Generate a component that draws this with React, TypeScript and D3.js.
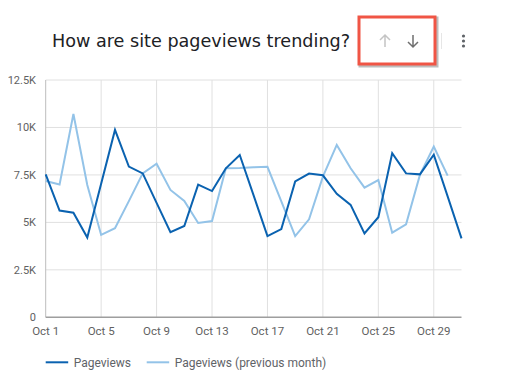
import { useEffect, useRef } from "react"
import * as d3 from "d3"

// day of month (Oct 1 .. Oct 31)
const days = d3.range(1, 32)
const pageviews = [
  7530, 5620, 5510, 4200, 7040, 9870, 7940, 7580, 6030, 4480, 4810, 6990, 6650, 7850, 8550, 6420,
  4280, 4650, 7160, 7570, 7480, 6500, 5920, 4420, 5270, 8640, 7580, 7530, 8570, 6370, 4160,
]
// previous month only has 30 days
const previousMonth = [
  7180, 7000, 10710, 6970, 4340, 4690, 6120, 7580, 8090, 6710, 6130, 4970, 5070, 7850, 7860, 7900,
  7930, 6110, 4280, 5160, 7410, 9080, 7850, 6830, 7230, 4460, 4900, 7500, 8990, 7460,
]
const yTicks = [0, 2500, 5000, 7500, 10000, 12500]
const xTicks = [1, 5, 9, 13, 17, 21, 25, 29]
const seriesNames = ["Pageviews", "Pageviews (previous month)"]
const seriesColors = ["#0a62b0", "#93c3e8"]

const fmtK = (v: number) => (v === 0 ? "0" : `${v / 1000}K`)

export default function App() {
  const svgRef = useRef<SVGSVGElement>(null)

  useEffect(() => {
    if (!svgRef.current) return
    const svg = d3.select(svgRef.current)
    svg.selectAll("*").remove()

    const x = d3.scaleLinear().domain([1, 31]).range([45.7, 461.5])
    const y = d3.scaleLinear().domain([0, 12500]).range([317.3, 80])

    // grid
    const g = svg.append("g")
    g.selectAll(".hgrid")
      .data(yTicks.slice(1))
      .enter()
      .append("line")
      .attr("x1", x(1))
      .attr("x2", x(31))
      .attr("y1", (d) => y(d))
      .attr("y2", (d) => y(d))
      .attr("stroke", "#e0e0e0")
      .attr("stroke-width", 1)
    g.selectAll(".vgrid")
      .data(xTicks.slice(1))
      .enter()
      .append("line")
      .attr("x1", (d) => x(d))
      .attr("x2", (d) => x(d))
      .attr("y1", y(12500))
      .attr("y2", y(0))
      .attr("stroke", "#e0e0e0")
      .attr("stroke-width", 1)

    // axis lines
    g.append("line")
      .attr("x1", x(1))
      .attr("x2", x(1))
      .attr("y1", y(12500))
      .attr("y2", y(0))
      .attr("stroke", "#bdbdbd")
    g.append("line")
      .attr("x1", x(1))
      .attr("x2", x(31))
      .attr("y1", y(0))
      .attr("y2", y(0))
      .attr("stroke", "#9e9e9e")
      .attr("stroke-width", 1.5)

    // tick labels
    g.selectAll(".ylab")
      .data(yTicks)
      .enter()
      .append("text")
      .attr("x", 36)
      .attr("y", (d) => y(d))
      .attr("dy", "0.35em")
      .attr("text-anchor", "end")
      .attr("font-family", "Roboto, sans-serif")
      .attr("font-size", 11)
      .attr("fill", "#616161")
      .text(fmtK)
    g.selectAll(".xlab")
      .data(xTicks)
      .enter()
      .append("text")
      .attr("x", (d) => x(d))
      .attr("y", 335)
      .attr("text-anchor", "middle")
      .attr("font-family", "Roboto, sans-serif")
      .attr("font-size", 11.5)
      .attr("fill", "#616161")
      .text((d) => `Oct ${d}`)

    // lines
    const line = d3
      .line<number>()
      .x((_, i) => x(days[i]))
      .y((d) => y(d))
    const seriesData = [pageviews, previousMonth]
    // draw previous month first so current month sits on top
    ;[1, 0].forEach((s) => {
      g.append("path")
        .datum(seriesData[s])
        .attr("d", line)
        .attr("fill", "none")
        .attr("stroke", seriesColors[s])
        .attr("stroke-width", 2)
        .attr("stroke-linejoin", "miter")
    })

    // legend
    const legendX = [45.7, 146.7]
    seriesNames.forEach((name, i) => {
      g.append("line")
        .attr("x1", legendX[i])
        .attr("x2", legendX[i] + 22.5)
        .attr("y1", 362.3)
        .attr("y2", 362.3)
        .attr("stroke", seriesColors[i])
        .attr("stroke-width", 2)
      g.append("text")
        .attr("x", legendX[i] + 28)
        .attr("y", 362.3)
        .attr("dy", "0.35em")
        .attr("font-family", "Roboto, sans-serif")
        .attr("font-size", 12)
        .attr("fill", "#5f6368")
        .text(name)
    })

    // title
    svg.append("text")
      .attr("x", 52)
      .attr("y", 47)
      .attr("font-family", "DejaVu Sans, sans-serif")
      .attr("font-size", 17.6)
      .attr("fill", "#202124")
      .text("How are site pageviews trending?")

    // highlighted sort buttons
    svg.append("rect")
      .attr("x", 360)
      .attr("y", 18)
      .attr("width", 77)
      .attr("height", 48)
      .attr("fill", "none")
      .attr("stroke", "#6d6d6d")
      .attr("stroke-opacity", 0.45)
      .attr("stroke-width", 3)
    svg.append("rect")
      .attr("x", 359)
      .attr("y", 17)
      .attr("width", 76)
      .attr("height", 47)
      .attr("fill", "#ffffff")
      .attr("stroke", "#f05545")
      .attr("stroke-width", 3)

    const arrow = (cx: number, up: boolean, color: string) => {
      const top = 35
      const bottom = 47
      const tip = up ? top : bottom
      const dir = up ? 1 : -1
      svg.append("path")
        .attr(
          "d",
          `M${cx},${top} L${cx},${bottom} M${cx - 5},${tip + dir * 5} L${cx},${tip} L${cx + 5},${tip + dir * 5}`
        )
        .attr("fill", "none")
        .attr("stroke", color)
        .attr("stroke-width", 1.5)
    }
    arrow(385, true, "#c4c4c4")
    arrow(413, false, "#6f6f6f")

    svg.append("line")
      .attr("x1", 441.5)
      .attr("x2", 441.5)
      .attr("y1", 33)
      .attr("y2", 49)
      .attr("stroke", "#e6e6e6")

    svg.selectAll(".dot")
      .data([36, 41, 46])
      .enter()
      .append("circle")
      .attr("cx", 463.5)
      .attr("cy", (d) => d)
      .attr("r", 1.6)
      .attr("fill", "#5f6368")
  }, [])

  return (
    <svg
      ref={svgRef}
      width={512}
      height={387}
      style={{ position: "absolute", left: 0, top: 0, background: "#fff" }}
    />
  )
}
